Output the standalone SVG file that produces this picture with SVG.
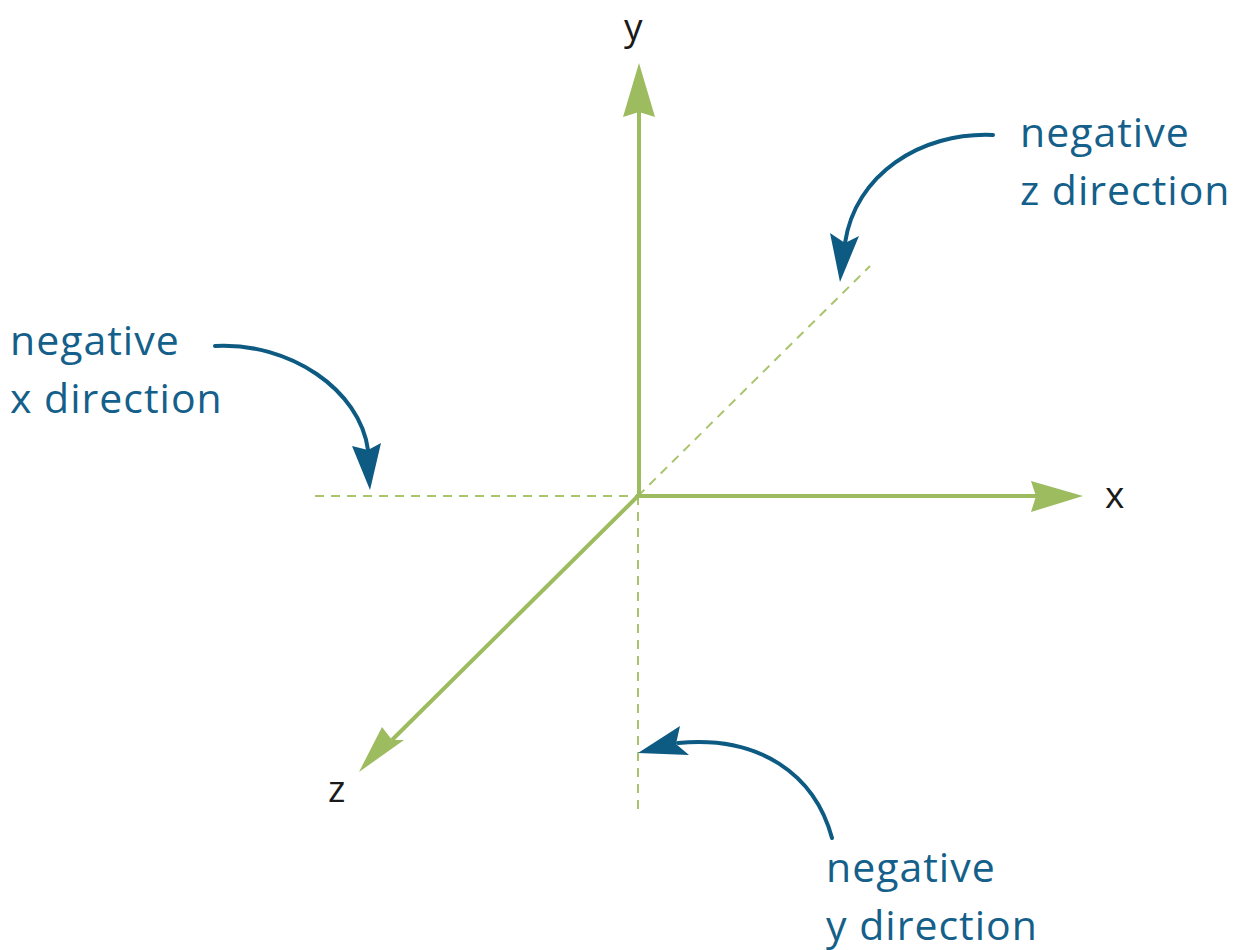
<svg xmlns="http://www.w3.org/2000/svg" width="1233" height="950" viewBox="0 0 1233 950">
<style>
.axis{stroke:#9dbb5f;stroke-width:4;fill:none}
.dash{stroke:#a9c46c;stroke-width:2;fill:none;stroke-dasharray:9 7}
.ahead{fill:#9dbb5f}
.curve{stroke:#0d5a82;stroke-width:4;fill:none;stroke-linecap:round}
.bhead{fill:#0d5a82}
.lbl{font-family:"Open Sans","Noto Sans",sans-serif;font-size:37px;fill:#1a1a1a}
.note{font-family:"Open Sans","Noto Sans",sans-serif;font-size:41px;letter-spacing:1px;fill:#14608a}
</style>
<rect width="1233" height="950" fill="#ffffff"/>
<g id="connectors">
  <line class="dash" x1="315" y1="496" x2="638" y2="496"/>
  <line class="dash" x1="638" y1="496" x2="870" y2="266"/>
  <line class="dash" x1="638" y1="496" x2="638" y2="812"/>
  <line class="axis" x1="639" y1="496" x2="639" y2="112"/>
  <polygon class="ahead" points="639,63 655,117 639,112 623,117"/>
  <line class="axis" x1="636" y1="496" x2="1036" y2="496"/>
  <polygon class="ahead" points="1083,496 1031,481 1036,496 1031,512"/>
  <line class="axis" x1="640" y1="494" x2="392" y2="740"/>
  <polygon class="ahead" points="359,772 382,727 392,740 404,740"/>
  <path class="curve" d="M993,135 C920,132 855,175 845,243"/>
  <polygon class="bhead" points="840,282 830,233 845,243 859,236"/>
  <path class="curve" d="M215,346 C290,342 360,390 368,450"/>
  <polygon class="bhead" points="370,490 352,446 368,450 381,443"/>
  <path class="curve" d="M832,838 C815,775 760,735 678,743"/>
  <polygon class="bhead" points="638,753 680,726 676,744 689,755"/>
</g>
<g id="label-y"><text class="lbl" x="624" y="40">y</text></g>
<g id="label-x"><text class="lbl" x="1105" y="508">x</text></g>
<g id="label-z"><text class="lbl" x="328" y="802">z</text></g>
<g id="note-z"><text class="note" x="1020" y="147">negative</text><text class="note" x="1020" y="205">z direction</text></g>
<g id="note-x"><text class="note" x="10" y="355">negative</text><text class="note" x="10" y="413">x direction</text></g>
<g id="note-y"><text class="note" x="826" y="882">negative</text><text class="note" x="826" y="940">y direction</text></g>
</svg>
